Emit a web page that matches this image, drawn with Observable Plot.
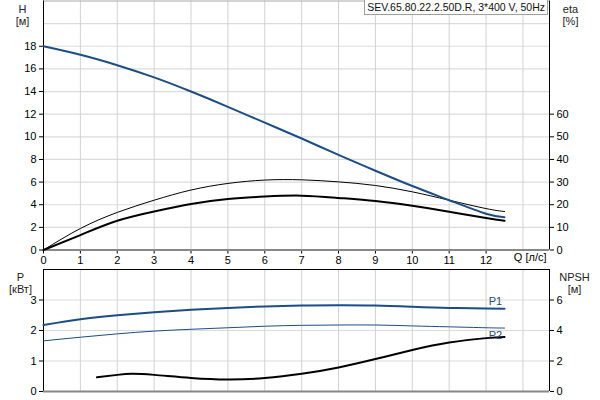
<!DOCTYPE html>
<html>
<head>
<meta charset="utf-8">
<script src="https://cdn.jsdelivr.net/npm/d3@7"></script>
<script src="https://cdn.jsdelivr.net/npm/@observablehq/plot@0.6"></script>
<style>
  html, body { margin: 0; padding: 0; background: white; }
  #chart { position: relative; width: 600px; height: 400px; font-family: "Liberation Sans", Arial, sans-serif; }
  #chart svg { display: block; }
  #model { position: absolute; right: 52px; top: -1px; height: 16px; box-sizing: border-box;
           border: 1px solid #a0a0a0; background: white; font-size: 10.5px; line-height: 14px;
           padding: 0 2px; color: #111; white-space: nowrap; }
</style>
</head>
<body>
<div id="chart"></div>
<script>
// ---- data ----
const q        = [0, 1, 2, 3, 4, 5, 6, 7, 8, 9, 10, 11, 12, 12.5];
const head     = [18, 17.25, 16.33, 15.25, 14.0, 12.65, 11.25, 9.85, 8.4, 7.0, 5.65, 4.4, 3.2, 2.9];
const etaThin  = [0, 9.5, 16.6, 22, 26.5, 29.4, 30.9, 31, 30.1, 28.5, 25.7, 22, 18.3, 17];
const etaThick = [0, 6.6, 12.9, 17, 20.3, 22.5, 23.6, 24, 23, 21.6, 19.5, 16.9, 14.1, 12.9];
const p1       = [2.18, 2.37, 2.5, 2.6, 2.68, 2.74, 2.79, 2.82, 2.83, 2.82, 2.78, 2.74, 2.72, 2.71];
const p2       = [1.66, 1.78, 1.89, 1.98, 2.04, 2.09, 2.14, 2.17, 2.18, 2.18, 2.15, 2.12, 2.09, 2.08];
const qNpsh    = [1.45, 2, 2.4, 3, 4, 5, 6, 7, 8, 9, 10, 11, 12, 12.5];
const npsh     = [0.93, 1.09, 1.16, 1.09, 0.89, 0.79, 0.88, 1.16, 1.58, 2.13, 2.72, 3.21, 3.5, 3.58];

const xTicks    = [0, 1, 2, 3, 4, 5, 6, 7, 8, 9, 10, 11, 12];
const xGrid     = [0, 1, 2, 3, 4, 5, 6, 7, 8, 9, 10, 11, 12, 13];
const hTicks    = [0, 2, 4, 6, 8, 10, 12, 14, 16, 18];
const hGrid     = [0, 2, 4, 6, 8, 10, 12, 14, 16, 18, 20];
const etaTicks  = [0, 10, 20, 30, 40, 50, 60];
const pTicks    = [0, 1, 2, 3];
const npshTicks = [0, 2, 4, 6];
const modelLabel = "SEV.65.80.22.2.50D.R, 3*400 V, 50Hz";
const xUnit = "Q [л/с]";

const xMax = 13.72, hMax = 22, pMax = 4;
const blue = "#1b4d87";
const font = "'Liberation Sans', Arial, sans-serif";
const crv = "natural";

const topPlot = Plot.plot({
  width: 600, height: 268,
  marginLeft: 43, marginRight: 51, marginTop: 0.5, marginBottom: 18.5,
  x: {domain: [0, xMax]},
  y: {domain: [0, hMax]},
  style: {fontFamily: font, fontSize: "11px", color: "#000", background: "white", overflow: "visible"},
  marks: [
    Plot.ruleY(hGrid, {stroke: "#dcdcdc", strokeWidth: 1.2}),
    Plot.ruleX(xGrid, {stroke: "#d2d2d2"}),
    Plot.ruleY([hMax], {stroke: "#aaa"}),
    Plot.axisY(hTicks, {anchor: "left", tickSize: 4, tickPadding: 3, label: null}),
    Plot.axisY(etaTicks.map(d => d / 5), {anchor: "right", tickSize: 4, tickPadding: 3, label: null, tickFormat: d => Math.round(d * 5)}),
    Plot.axisX(xTicks, {anchor: "bottom", tickSize: 4, tickPadding: 2, label: null}),
    Plot.ruleX([0], {stroke: "black"}),
    Plot.ruleX([xMax], {stroke: "black"}),
    Plot.ruleY([0], {stroke: "#888", strokeWidth: 2}),
    Plot.line(q, {x: q, y: etaThin.map(d => d / 5), stroke: "black", strokeWidth: 1, curve: crv}),
    Plot.line(q, {x: q, y: etaThick.map(d => d / 5), stroke: "black", strokeWidth: 2, curve: crv}),
    Plot.line(q, {x: q, y: head, stroke: blue, strokeWidth: 2, curve: crv}),
    Plot.text(["H"], {frameAnchor: "top-left", textAnchor: "middle", dx: -21, dy: 4.5, fill: "#222"}),
    Plot.text(["[м]"], {frameAnchor: "top-left", textAnchor: "middle", dx: -21, dy: 16.5, fill: "#222"}),
    Plot.text(["eta"], {frameAnchor: "top-right", textAnchor: "middle", dx: 21, dy: 4.5, fill: "#222"}),
    Plot.text(["[%]"], {frameAnchor: "top-right", textAnchor: "middle", dx: 21, dy: 16.5, fill: "#222"}),
    Plot.text([xUnit], {frameAnchor: "bottom-right", textAnchor: "end", dx: -3, dy: 11})
  ]
});

const bottomPlot = Plot.plot({
  width: 600, height: 132,
  marginLeft: 43, marginRight: 51, marginTop: 1, marginBottom: 9,
  x: {domain: [0, xMax], axis: null},
  y: {domain: [0, pMax]},
  style: {fontFamily: font, fontSize: "11px", color: "#000", background: "white", overflow: "visible"},
  marks: [
    Plot.ruleY([1, 2, 3], {stroke: "#dcdcdc", strokeWidth: 1.2}),
    Plot.ruleX(xGrid, {stroke: "#d2d2d2"}),
    Plot.axisY(pTicks, {anchor: "left", tickSize: 4, tickPadding: 3, label: null}),
    Plot.axisY(npshTicks.map(d => d / 2), {anchor: "right", tickSize: 4, tickPadding: 3, label: null, tickFormat: d => Math.round(d * 2)}),
    Plot.ruleY([pMax], {stroke: "black"}),
    Plot.ruleX([0], {stroke: "black"}),
    Plot.ruleX([xMax], {stroke: "black"}),
    Plot.ruleY([0], {stroke: "#888", strokeWidth: 2}),
    Plot.line(q, {x: q, y: p1, stroke: blue, strokeWidth: 2, curve: crv}),
    Plot.line(q, {x: q, y: p2, stroke: blue, strokeWidth: 1, curve: crv}),
    Plot.line(qNpsh, {x: qNpsh, y: npsh.map(d => d / 2), stroke: "black", strokeWidth: 2, curve: crv}),
    Plot.text([q.length - 1], {x: i => q[i], y: i => p1[i], text: () => "P1", dx: -9, dy: -7, fill: "#2a4a7a"}),
    Plot.text([q.length - 1], {x: i => q[i], y: i => p2[i], text: () => "P2", dx: -9, dy: 7, fill: "#2a4a7a"}),
    Plot.text(["P"], {frameAnchor: "top-left", textAnchor: "middle", dx: -23, dy: 4, fill: "#222"}),
    Plot.text(["[кВт]"], {frameAnchor: "top-left", textAnchor: "middle", dx: -23, dy: 16, fill: "#222"}),
    Plot.text(["NPSH"], {frameAnchor: "top-right", textAnchor: "middle", dx: 25, dy: 4, fill: "#222"}),
    Plot.text(["[м]"], {frameAnchor: "top-right", textAnchor: "middle", dx: 25, dy: 16, fill: "#222"})
  ]
});

const chart = document.getElementById("chart");
chart.appendChild(topPlot);
chart.appendChild(bottomPlot);
const box = document.createElement("div");
box.id = "model";
box.textContent = modelLabel;
chart.appendChild(box);
</script>
</body>
</html>
